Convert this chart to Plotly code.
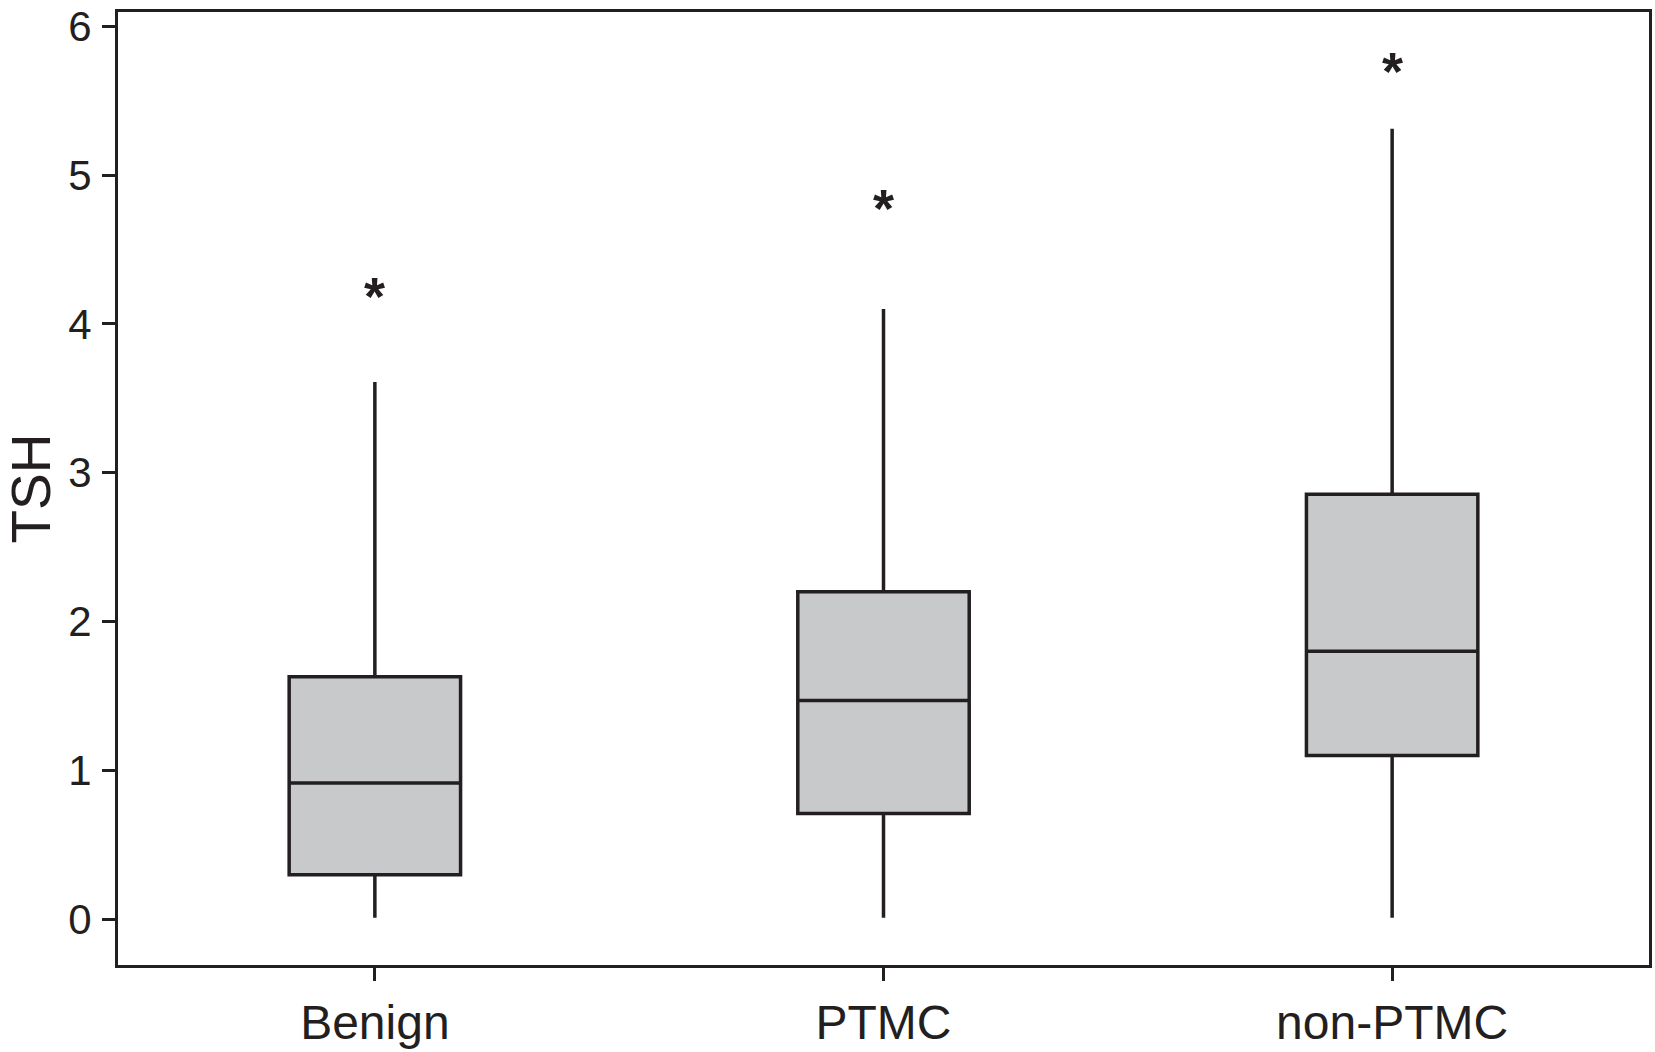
import plotly.graph_objects as go

categories = ["Benign", "PTMC", "non-PTMC"]
lower_whisker = [0.01, 0.01, 0.01]
q1 = [0.30, 0.71, 1.10]
median = [0.915, 1.47, 1.80]
q3 = [1.63, 2.20, 2.855]
upper_whisker = [3.61, 4.10, 5.31]
outliers = [4.25, 4.84, 5.76]

y_ticks = [0, 1, 2, 3, 4, 5, 6]

ink = "#231f20"
fill = "#c8c9cb"
font_family = "Liberation Sans, Arial, Helvetica, sans-serif"

fig = go.Figure()
fig.add_trace(go.Box(
    x=categories,
    q1=q1, median=median, q3=q3,
    lowerfence=lower_whisker, upperfence=upper_whisker,
    width=0.337,
    whiskerwidth=0,
    fillcolor=fill,
    line=dict(color=ink, width=3.5),
    boxpoints=False,
    hoverinfo="skip",
    showlegend=False,
))

for c, v in zip(categories, outliers):
    fig.add_annotation(
        x=c, y=v, xref="x", yref="y", text="<b>*</b>", showarrow=False,
        font=dict(family=font_family, size=54, color=ink),
        yshift=-9,
    )

fig.update_layout(
    width=1655, height=1052,
    margin=dict(l=118, r=3, t=10, b=77),
    paper_bgcolor="white", plot_bgcolor="white",
    font=dict(family=font_family, color=ink),
)
fig.update_xaxes(
    type="category",
    categoryorder="array", categoryarray=categories,
    range=[-0.505, 2.505],
    showline=True, mirror=True, linecolor=ink, linewidth=3,
    ticks="outside", ticklen=13, tickwidth=3, tickcolor=ink,
    tickfont=dict(size=48, color=ink, family=font_family),
    ticklabelstandoff=0,
    ticklabeloverflow="allow",
    showgrid=False, zeroline=False,
)
fig.update_yaxes(
    range=[-0.307, 6.095],
    tickvals=y_ticks, ticktext=[str(t) for t in y_ticks],
    showline=True, mirror=True, linecolor=ink, linewidth=3,
    ticks="outside", ticklen=13, tickwidth=3, tickcolor=ink,
    tickfont=dict(size=42, color=ink, family=font_family),
    ticklabelstandoff=2,
    ticklabeloverflow="allow",
    title=dict(text="TSH", font=dict(size=55, color=ink, family=font_family), standoff=16),
    showgrid=False, zeroline=False,
)

fig.write_html(
    "out.html",
    config={"displayModeBar": False, "staticPlot": True},
    post_script="document.body.style.margin='0';document.body.style.overflow='hidden';",
)
